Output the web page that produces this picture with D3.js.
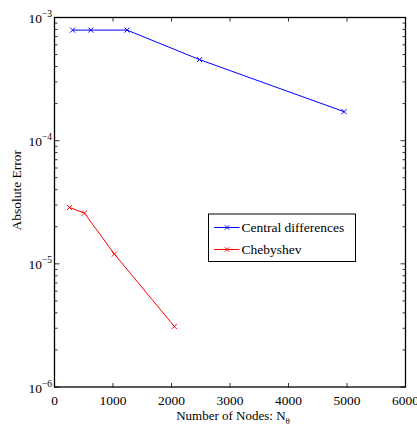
<!DOCTYPE html>
<html>
<head>
<meta charset="utf-8">
<script src="https://cdn.jsdelivr.net/npm/d3@7"></script>
<style>
  html, body { margin: 0; padding: 0; background: #fff; }
  svg { display: block; }
  svg text { font-family: "Liberation Serif", "DejaVu Serif", serif; }
</style>
</head>
<body>
<svg id="chart" width="417" height="427"></svg>
<script>
// Error convergence data
const centralNodes = [310, 620, 1240, 2480, 4950];
const centralError = [7.9e-4, 7.9e-4, 7.9e-4, 4.55e-4, 1.72e-4];
const chebNodes = [256, 512, 1024, 2048];
const chebError = [2.87e-5, 2.58e-5, 1.2e-5, 3.1e-6];

const xTicks = [0, 1000, 2000, 3000, 4000, 5000, 6000];
const yDecades = [-6, -5, -4, -3];

const seriesNames = ["Central differences", "Chebyshev"];
const seriesColors = ["#0000ff", "#ff0000"];

const W = 417, H = 427;
const m = { left: 54.5, right: 11.5, top: 17.5, bottom: 40 };
const svg = d3.select("#chart");
const FONT = "Liberation Serif, DejaVu Serif, serif";

const x = d3.scaleLinear().domain([0, 6000]).range([m.left, W - m.right]);
const y = d3.scaleLog().domain([1e-6, 1e-3]).range([H - m.bottom, m.top]);

const x0 = x.range()[0], x1 = x.range()[1];
const yb = y.range()[0], yt = y.range()[1];

// minor log ticks 2..9 in each decade
const minorY = [];
for (const d of yDecades.slice(0, -1)) {
  for (let k = 2; k <= 9; k++) minorY.push(k * Math.pow(10, d));
}

const ticks = svg.append("g").attr("stroke", "#000").attr("stroke-width", 0.8);
// x ticks, bottom and top, pointing inward
xTicks.forEach(t => {
  ticks.append("line").attr("x1", x(t)).attr("x2", x(t)).attr("y1", yb).attr("y2", yb - 4);
  ticks.append("line").attr("x1", x(t)).attr("x2", x(t)).attr("y1", yt).attr("y2", yt + 4);
});
// y major + minor ticks, left and right
yDecades.forEach(d => {
  const v = y(Math.pow(10, d));
  ticks.append("line").attr("x1", x0).attr("x2", x0 + 5).attr("y1", v).attr("y2", v);
  ticks.append("line").attr("x1", x1).attr("x2", x1 - 5).attr("y1", v).attr("y2", v);
});
minorY.forEach(t => {
  const v = y(t);
  ticks.append("line").attr("x1", x0).attr("x2", x0 + 3).attr("y1", v).attr("y2", v);
  ticks.append("line").attr("x1", x1).attr("x2", x1 - 3).attr("y1", v).attr("y2", v);
});

// frame
svg.append("rect")
  .attr("x", x0).attr("y", yt).attr("width", x1 - x0).attr("height", yb - yt)
  .attr("fill", "none").attr("stroke", "#000").attr("stroke-width", 1.3);

// x tick labels
svg.append("g").selectAll("text").data(xTicks).join("text")
  .attr("x", d => x(d)).attr("y", yb + 17.5)
  .attr("text-anchor", "middle").attr("font-size", 13.5).attr("font-family", FONT)
  .text(d => d);

// y tick labels 10^d
const yl = svg.append("g").selectAll("text").data(yDecades).join("text")
  .attr("x", x0 - 2.5).attr("y", d => y(Math.pow(10, d)) + 5.5)
  .attr("text-anchor", "end").attr("font-size", 13.5).attr("font-family", FONT);
yl.append("tspan").text("10");
yl.append("tspan").attr("font-size", 9.5).attr("dy", -6).text(d => "\u2212" + (-d));

// axis titles
svg.append("text")
  .attr("x", (x0 + x1) / 2 + 3).attr("y", 419.5)
  .attr("text-anchor", "middle").attr("font-size", 13).attr("font-family", FONT)
  .call(t => {
    t.append("tspan").text("Number of Nodes: N");
    t.append("tspan").attr("font-size", 9).attr("dy", 4).text("\u03b8");
  });
svg.append("text")
  .attr("transform", `translate(21,${(yt + yb) / 2 - 12}) rotate(-90)`)
  .attr("text-anchor", "middle").attr("font-size", 13.5).attr("font-family", FONT)
  .text("Absolute Error");

// series
const series = [
  { nodes: centralNodes, err: centralError },
  { nodes: chebNodes, err: chebError }
];
const line = d3.line().x(d => x(d[0])).y(d => y(d[1]));
const cross = (g, cx, cy, s, color) => {
  g.append("path")
    .attr("d", `M${cx - s},${cy - s}L${cx + s},${cy + s}M${cx - s},${cy + s}L${cx + s},${cy - s}`)
    .attr("stroke", color).attr("stroke-width", 1).attr("fill", "none");
};
series.forEach((s, i) => {
  const pts = s.nodes.map((n, j) => [n, s.err[j]]);
  const g = svg.append("g");
  g.append("path").datum(pts).attr("d", line)
    .attr("fill", "none").attr("stroke", seriesColors[i]).attr("stroke-width", 1);
  pts.forEach(p => cross(g, x(p[0]), y(p[1]), 2.5, seriesColors[i]));
});

// legend
const lg = svg.append("g");
lg.append("rect").attr("x", 208.5).attr("y", 214).attr("width", 147).attr("height", 47.5)
  .attr("fill", "#fff").attr("stroke", "#000").attr("stroke-width", 1);
seriesNames.forEach((name, i) => {
  const ly = 227.5 + i * 22;
  lg.append("line").attr("x1", 214).attr("x2", 239.5).attr("y1", ly).attr("y2", ly)
    .attr("stroke", seriesColors[i]).attr("stroke-width", 1);
  cross(lg, 227, ly, 2.2, seriesColors[i]);
  lg.append("text").attr("x", 241.5).attr("y", ly + 4.5).attr("font-size", 13.5)
    .attr("font-family", FONT).text(name);
});
</script>
</body>
</html>
